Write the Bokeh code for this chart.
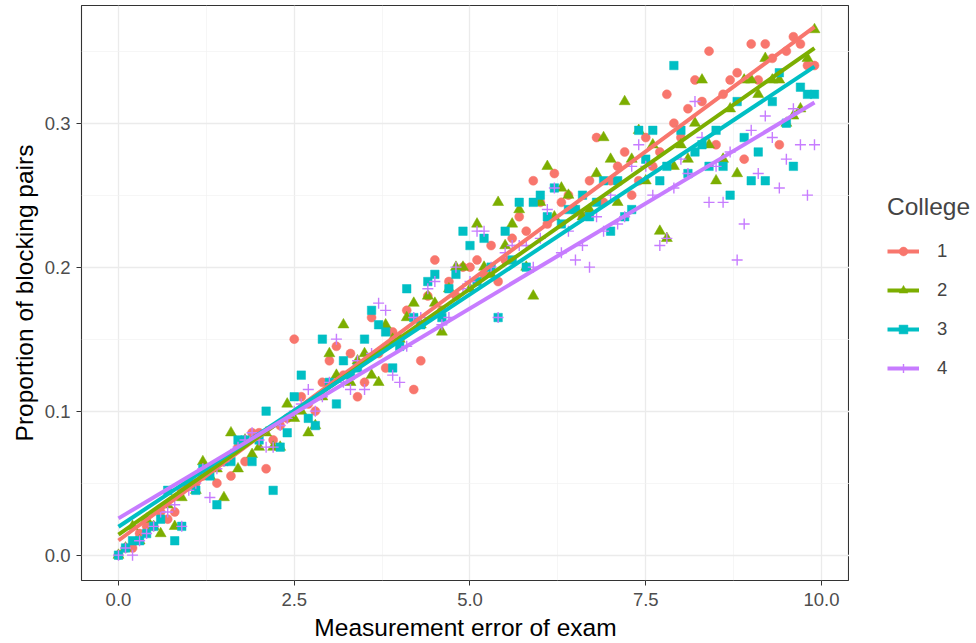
import numpy as np
from bokeh.plotting import figure
from bokeh.layouts import row
from bokeh.models import FixedTicker, PrintfTickFormatter, Legend, LegendItem, Range1d
from bokeh.embed import file_html
from bokeh.resources import INLINE

measurement_error = [
    0.0, 0.1, 0.2, 0.3, 0.4, 0.5, 0.6, 0.7, 0.8, 0.9,
    1.0, 1.1, 1.2, 1.3, 1.4, 1.5, 1.6, 1.7, 1.8, 1.9,
    2.0, 2.1, 2.2, 2.3, 2.4, 2.5, 2.6, 2.7, 2.8, 2.9,
    3.0, 3.1, 3.2, 3.3, 3.4, 3.5, 3.6, 3.7, 3.8, 3.9,
    4.0, 4.1, 4.2, 4.3, 4.4, 4.5, 4.6, 4.7, 4.8, 4.9,
    5.0, 5.1, 5.2, 5.3, 5.4, 5.5, 5.6, 5.7, 5.8, 5.9,
    6.0, 6.1, 6.2, 6.3, 6.4, 6.5, 6.6, 6.7, 6.8, 6.9,
    7.0, 7.1, 7.2, 7.3, 7.4, 7.5, 7.6, 7.7, 7.8, 7.9,
    8.0, 8.1, 8.2, 8.3, 8.4, 8.5, 8.6, 8.7, 8.8, 8.9,
    9.0, 9.1, 9.2, 9.3, 9.4, 9.5, 9.6, 9.7, 9.8, 9.9,
]

college_1 = [
    0.0, 0.005, 0.005, 0.015, 0.02, 0.02, 0.03, 0.025, 0.03, 0.045,
    0.05, 0.05, 0.055, 0.06, 0.05, 0.065, 0.055, 0.075, 0.065, 0.085,
    0.085, 0.06, 0.08, 0.09, 0.095, 0.15, 0.11, 0.105, 0.1, 0.12,
    0.135, 0.145, 0.125, 0.14, 0.11, 0.12, 0.165, 0.14, 0.13, 0.155,
    0.15, 0.17, 0.115, 0.135, 0.18, 0.205, 0.17, 0.19, 0.18, 0.2,
    0.2, 0.205, 0.195, 0.215, 0.19, 0.205, 0.22, 0.235, 0.225, 0.26,
    0.245, 0.23, 0.265, 0.245, 0.25, 0.24, 0.235, 0.26, 0.29, 0.245,
    0.26, 0.27, 0.28, 0.25, 0.26, 0.29, 0.27, 0.28, 0.32, 0.3,
    0.29, 0.31, 0.33, 0.315, 0.35, 0.285, 0.32, 0.33, 0.335, 0.275,
    0.355, 0.33, 0.355, 0.345, 0.285, 0.35, 0.36, 0.355, 0.34, 0.34,
]
college_2 = [
    0.0, 0.005, 0.02, 0.01, 0.025, 0.02, 0.015, 0.035, 0.02, 0.04,
    0.05, 0.045, 0.065, 0.055, 0.06, 0.04, 0.085, 0.06, 0.08, 0.07,
    0.075, 0.085, 0.075, 0.075, 0.105, 0.095, 0.1, 0.085, 0.09, 0.11,
    0.14, 0.125, 0.16, 0.12, 0.135, 0.14, 0.125, 0.12, 0.16, 0.15,
    0.15, 0.165, 0.175, 0.16, 0.18, 0.175, 0.155, 0.185, 0.2, 0.2,
    0.185, 0.23, 0.2, 0.195, 0.245, 0.215, 0.23, 0.24, 0.2, 0.18,
    0.245, 0.27, 0.235, 0.255, 0.25, 0.24, 0.235, 0.24, 0.265, 0.29,
    0.275, 0.245, 0.315, 0.275, 0.295, 0.26, 0.285, 0.225, 0.22, 0.27,
    0.285, 0.275, 0.3, 0.33, 0.285, 0.26, 0.275, 0.31, 0.265, 0.33,
    0.33, 0.32, 0.345, 0.33, 0.33, 0.3, 0.305, 0.31, 0.345, 0.365,
]
college_3 = [
    0.0, 0.005, 0.01, 0.01, 0.015, 0.02, 0.025, 0.045, 0.01, 0.02,
    0.05, 0.045, 0.06, 0.055, 0.035, 0.065, 0.065, 0.08, 0.08, 0.065,
    0.08, 0.1, 0.045, 0.075, 0.085, 0.11, 0.125, 0.095, 0.09, 0.15,
    0.12, 0.105, 0.135, 0.125, 0.13, 0.15, 0.17, 0.16, 0.155, 0.13,
    0.145, 0.185, 0.165, 0.16, 0.19, 0.195, 0.165, 0.185, 0.195, 0.225,
    0.215, 0.19, 0.22, 0.2, 0.165, 0.225, 0.205, 0.245, 0.2, 0.245,
    0.25, 0.235, 0.255, 0.23, 0.24, 0.24, 0.25, 0.235, 0.245, 0.26,
    0.225, 0.26, 0.235, 0.24, 0.295, 0.275, 0.295, 0.26, 0.27, 0.34,
    0.295, 0.265, 0.28, 0.285, 0.27, 0.295, 0.27, 0.25, 0.315, 0.29,
    0.26, 0.28, 0.26, 0.315, 0.335, 0.3, 0.27, 0.325, 0.32, 0.32,
]
college_4 = [
    0.0, 0.005, 0.0, 0.01, 0.015, 0.02, 0.03, 0.03, 0.035, 0.02,
    0.045, 0.05, 0.06, 0.04, 0.06, 0.065, 0.07, 0.075, 0.08, 0.085,
    0.08, 0.075, 0.075, 0.09, 0.095, 0.1, 0.105, 0.115, 0.1, 0.11,
    0.12, 0.15, 0.12, 0.115, 0.135, 0.115, 0.14, 0.175, 0.17, 0.125,
    0.12, 0.145, 0.165, 0.165, 0.185, 0.19, 0.16, 0.165, 0.2, 0.185,
    0.19, 0.225, 0.225, 0.2, 0.165, 0.21, 0.215, 0.215, 0.215, 0.2,
    0.22, 0.24, 0.255, 0.21, 0.225, 0.205, 0.215, 0.2, 0.235, 0.225,
    0.25, 0.23, 0.235, 0.27, 0.285, 0.27, 0.25, 0.215, 0.22, 0.255,
    0.275, 0.265, 0.315, 0.29, 0.245, 0.27, 0.245, 0.28, 0.205, 0.23,
    0.295, 0.265, 0.305, 0.29, 0.255, 0.275, 0.31, 0.285, 0.25, 0.285,
]

college_labels = ["1", "2", "3", "4"]
x_ticks = [0.0, 2.5, 5.0, 7.5, 10.0]
y_ticks = [0.0, 0.1, 0.2, 0.3]
x_minor = [1.25, 3.75, 6.25, 8.75]
y_minor = [0.05, 0.15, 0.25, 0.35]

colors = ["#F8766D", "#7CAE00", "#00BFC4", "#C77CFF"]
markers = ["circle", "triangle", "square", "cross"]
sizes = [9, 11, 8.5, 11]

p = figure(frame_width=768, frame_height=575, output_backend="svg", toolbar_location=None,
           x_range=Range1d(-0.526, 10.398), y_range=Range1d(-0.0176, 0.3817),
           min_border_left=81, min_border_right=0, min_border_top=5, min_border_bottom=63)
p.background_fill_color = "white"
p.border_fill_color = "white"
p.outline_line_color = "#333333"
p.outline_line_width = 1.1

for ax, ticks, minor in ((p.xaxis, x_ticks, x_minor), (p.yaxis, y_ticks, y_minor)):
    ax.ticker = FixedTicker(ticks=ticks, minor_ticks=minor)
    ax.formatter = PrintfTickFormatter(format="%.1f")
    ax.major_label_text_font = "Liberation Sans"
    ax.major_label_text_font_size = "18.5px"
    ax.major_label_text_color = "#4D4D4D"
    ax.axis_label_text_font = "Liberation Sans"
    ax.axis_label_text_font_size = "24.5px"
    ax.axis_label_text_font_style = "normal"
    ax.axis_label_text_color = "black"
    ax.axis_line_color = None
    ax.major_tick_line_color = "#333333"
    ax.major_tick_in = 0
    ax.major_tick_out = 5
    ax.minor_tick_line_color = None

p.xaxis.axis_label = "Measurement error of exam"
p.yaxis.axis_label = "Proportion of blocking pairs"
p.xaxis.axis_label_standoff = 5
p.yaxis.axis_label_standoff = 4
p.xaxis.major_label_standoff = 7
p.yaxis.major_label_standoff = 6

for g in (p.xgrid, p.ygrid):
    g.grid_line_color = "#EBEBEB"
    g.grid_line_width = 1.3
    g.minor_grid_line_color = "#F2F2F2"
    g.minor_grid_line_width = 0.7

series = [college_1, college_2, college_3, college_4]
xs = np.array(measurement_error)


def draw_points(fig, xv, ys, c, m, s):
    if m == "cross":
        return fig.scatter(xv, ys, marker=m, size=s, line_color=c, line_width=1.4)
    return fig.scatter(xv, ys, marker=m, size=s, fill_color=c, line_color=c, line_width=0.5)


for ys, c, m, s in zip(series, colors, markers, sizes):
    draw_points(p, measurement_error, ys, c, m, s)

fits = []
for ys, c in zip(series, colors):
    slope, intercept = np.polyfit(xs, np.array(ys), 1)
    fx = [xs.min(), xs.max()]
    fy = [intercept + slope * v for v in fx]
    fits.append((fx, fy))
    p.line(fx, fy, line_color=c, line_width=4)

# legend panel: a narrow figure to the right of the panel; its renderers hold the
# same data but lie outside its (empty) view, so only the legend is seen.
lg = figure(width=127, height=643, output_backend="svg", toolbar_location=None,
            x_axis_type=None, y_axis_type=None, x_range=Range1d(50, 51), y_range=Range1d(50, 51),
            min_border=0)
lg.outline_line_color = None
lg.xgrid.visible = False
lg.ygrid.visible = False
lg.background_fill_color = "white"
lg.border_fill_color = "white"

items = []
for lab, ys, (fx, fy), c, m, s in zip(college_labels, series, fits, colors, markers, sizes):
    lr = lg.line(fx, fy, line_color=c, line_width=4)
    sr = draw_points(lg, measurement_error, ys, c, m, s)
    items.append(LegendItem(label=lab, renderers=[lr, sr]))

legend = Legend(items=items, title="College", location=(38, 201))
legend.title_text_font = "Liberation Sans"
legend.title_text_font_size = "24.5px"
legend.title_text_font_style = "normal"
legend.title_standoff = 19
legend.label_text_font = "Liberation Sans"
legend.label_text_font_size = "18.5px"
legend.glyph_width = 32
legend.glyph_height = 22
legend.spacing = 17
legend.label_standoff = 18
legend.padding = 0
legend.margin = 0
legend.border_line_color = None
legend.background_fill_alpha = 0
lg.add_layout(legend, "center")

layout = row(p, lg, spacing=0)
open("out.html", "w").write(file_html(layout, INLINE))
